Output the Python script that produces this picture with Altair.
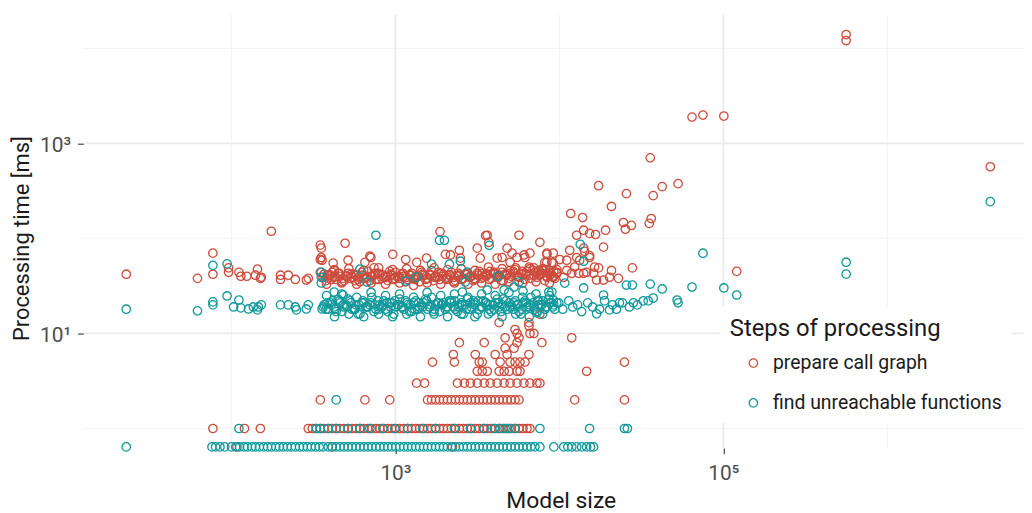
import altair as alt
import pandas as pd

RED_NAME = "prepare call graph"
TEAL_NAME = "find unreachable functions"
RED = "#cc4c3d"
TEAL = "#11999c"

# ---------------- data (model size, time in ms) ----------------
# points whose time rounds to whole milliseconds, grouped by value (x = model size)
red_ms0_x = [108, 411, 2225]
red_ms1_x = [77, 120, 150, 294, 311, 329, 348, 367, 389, 411, 435, 459, 486, 514, 543, 575, 607, 642,
             679, 718, 760, 803, 849, 898, 949, 1004, 1061, 1123, 1187, 1255, 1328, 1403, 1485, 1570,
             1660, 1756, 1856, 1962, 2075, 2194, 2322, 2454, 2595, 2744, 2902, 3069, 3243, 3431, 3628,
             3836, 4058, 4289, 4536, 4797, 5073, 5365, 5669, 5997, 6342, 6615]
red_ms2_x = [348, 651, 923, 1570, 1660, 1756, 1856, 1962, 2075, 2194, 2322, 2454, 2595, 2744, 2902,
             3069, 3243, 3431, 3628, 3836, 4058, 4289, 4536, 4797, 5073, 5365, 5669, 12395, 24930]
red_ms3_x = [1345, 1506, 2387, 2632, 2862, 3155, 3479, 3783, 4172, 4600, 5003, 5515, 6081, 6613, 7292, 7603]
red_ms4_x = [3155, 3384, 3628, 4289, 4600, 4932, 5515, 5749, 14660]
red_ms5_x = [1683, 2288, 3243, 3384, 4349, 5003, 5365, 5749, 6165, 24930]
red_ms6_x = [2256, 3069, 4058, 4797, 6520]

teal_ms0_x = [22.8, 76, 80, 85, 91, 100, 106, 112, 119, 125, 133, 140, 148, 157, 166, 175, 186, 196,
              207, 219, 232, 245, 260, 274, 290, 307, 325, 343, 362, 389, 411, 435, 459, 486, 514, 543,
              575, 607, 642, 679, 718, 760, 803, 849, 898, 949, 1004, 1061, 1123, 1187, 1255, 1328,
              1403, 1485, 1570, 1660, 1756, 1856, 1962, 2075, 2194, 2322, 2454, 2595, 2744, 2902,
              3069, 3243, 3431, 3628, 3836, 4058, 4289, 4536, 4797, 5073, 5365, 5669, 5997, 6342,
              6706, 7090, 7603, 9250, 10630, 11260, 11890, 12745, 13675, 14660, 15500, 16160]
teal_ms1_x = [111, 329, 348, 389, 435, 514, 607, 698, 837, 990, 1187, 1464, 1756, 2288, 2862, 3479,
              4002, 4349, 4665, 4933, 5365, 7603, 15280, 24930, 25990]
teal_ms2_x = [435]

# main bands (model sizes shared by both steps)
band_a_x = [367, 389, 411, 435, 459, 486, 514, 543, 575, 607, 642, 679, 718, 760, 803, 849, 898, 949,
            1004, 1061, 1123, 1187, 1255, 1328, 1403, 1485, 1570, 1660, 1756, 1856, 1962, 2075, 2194,
            2322, 2454, 2595, 2744, 2902, 3069, 3243, 3431, 3628, 3836, 4058, 4289, 4536, 4797, 5073,
            5365, 5669, 5997, 6342, 6706, 7090, 7498, 7930, 8384, 8865, 9375]
band_b_x = [377, 400, 423, 447, 472, 500, 528, 559, 591, 624, 660, 698, 739, 781, 826, 873, 923, 976,
            1032, 1091, 1154, 1221, 1291, 1365, 1443, 1527, 1614, 1707, 1805, 1908, 2018, 2134, 2257,
            2387, 2524, 2669, 2822, 2984, 3155, 3336, 3528, 3730, 3945, 4172, 4411, 4665, 4933, 5216,
            5515, 5832, 6167, 6521, 6896, 7292, 7711, 8154, 8622, 9117, 9643]
band_c_x = [380, 425, 470, 520, 580, 640, 710, 790, 870, 960, 1060, 1170, 1290, 1420, 1560, 1720, 1890,
            2080, 2290, 2520, 2770, 3050, 3350, 3690, 4060, 4470, 4920, 5410, 5950, 6550, 7200, 7900, 8700]
band_d_x = [362, 384, 405, 429, 453, 479, 507, 535, 567, 599, 633, 670, 708, 750, 792, 837, 886, 936,
            990, 1046, 1107, 1171, 1238, 1310, 1384, 1464, 1548, 1637, 1732, 1830, 1935, 2046, 2164,
            2290, 2420, 2559, 2706, 2862, 3027, 3198, 3384, 3578, 3783, 4002, 4230, 4473, 4730, 5003,
            5291, 5591, 5914, 6254, 6613, 6992, 7394, 7820, 8268, 8742, 9245]

red_band_a_y = [42, 38, 44, 37, 40, 36, 43, 39, 41, 35,
                38, 45, 40, 37, 42, 39, 36, 41, 44, 38,
                40, 37, 43, 39, 35, 41, 38, 46, 40, 37,
                42, 39, 44, 36, 41, 38, 43, 40, 37, 45,
                39, 42, 38, 44, 41, 36, 43, 40, 47, 39,
                42, 45, 38, 44, 41, 46, 40, 43, 38]
red_band_b_y = [36, 41, 39, 43, 35, 40, 38, 42, 37, 44,
                39, 36, 41, 43, 38, 40, 45, 37, 39, 42,
                35, 41, 38, 40, 44, 37, 42, 36, 39, 43,
                38, 41, 35, 40, 37, 42, 39, 36, 43, 38,
                41, 37, 44, 39, 36, 42, 38, 45, 40, 43,
                37, 41, 46, 39, 42, 36, 44, 40, 47]
red_band_c_y = [33, 47, 34, 48, 33, 46, 34, 49, 33, 47,
                34, 48, 32, 46, 34, 49, 33, 47, 34, 48,
                33, 46, 34, 50, 33, 48, 35, 49, 34, 50,
                35, 48, 34]
red_band_d_y = [39, 41, 37, 40, 43, 38, 40, 42, 36, 39,
                41, 38, 40, 43, 37, 41, 39, 42, 38, 40,
                43, 39, 41, 37, 40, 42, 38, 41, 39, 44,
                40, 37, 41, 39, 43, 38, 42, 40, 38, 41,
                43, 40, 45, 42, 39, 44, 41, 46, 43, 40,
                45, 42, 48, 41, 44, 43, 47, 41, 45]

teal_band_a_y = [20, 18, 22, 17, 21, 19, 23, 18, 20, 16,
                 21, 19, 24, 18, 20, 22, 17, 21, 19, 23,
                 18, 20, 17, 22, 19, 21, 18, 24, 20, 17,
                 21, 19, 22, 18, 20, 16, 23, 19, 21, 18,
                 22, 20, 17, 21, 19, 23, 18, 20, 22, 17,
                 21, 19, 24, 18, 20, 22, 19, 21, 18]
teal_band_b_y = [18, 21, 19, 23, 17, 20, 22, 18, 16, 21,
                 19, 20, 17, 22, 19, 18, 21, 16, 20, 19,
                 22, 17, 21, 18, 20, 23, 19, 17, 21, 20,
                 18, 22, 19, 17, 21, 20, 18, 22, 16, 19,
                 21, 18, 20, 23, 17, 19, 21, 18, 20, 16,
                 22, 19, 21, 17, 20, 18, 23, 19, 21]
teal_band_c_y = [25, 15, 26, 16, 24, 15, 27, 16, 25, 15,
                 26, 16, 24, 15, 27, 16, 25, 15, 26, 16,
                 24, 15, 26, 16, 25, 15, 27, 16, 24, 15,
                 26, 16, 25]
teal_band_d_y = [19, 21, 20, 18, 22, 20, 19, 21, 18, 20,
                 22, 19, 21, 20, 18, 20, 21, 19, 22, 20,
                 19, 21, 20, 18, 21, 19, 22, 20, 18, 21,
                 20, 19, 21, 22, 19, 20, 18, 21, 20, 22,
                 19, 21, 20, 18, 21, 20, 22, 19, 21, 20,
                 18, 21, 20, 19, 22, 20, 19, 21, 20]

teal_ext_x = [9913, 10480, 11400, 12060, 12920, 13675, 14870, 15950, 17570, 18850, 21070, 22285,
              24240, 26720, 29880, 32480]
teal_ext_y = [21, 18, 22, 19, 20, 17, 21, 19, 18, 22, 20, 18, 21, 19, 20, 22]

# remaining individual points
red_pts_x = [4665, 5289, 2454, 3479, 5515, 7819, 4665, 5669, 11890, 5515,
             6615, 6990, 5365, 6520, 4289, 6520, 7603,
             22.8, 62, 77, 77, 96, 96, 111, 114, 124, 140,
             144, 150, 152, 175, 199, 199, 222, 245, 286, 294,
             348, 353, 353, 357, 348, 348,
             493, 514, 651, 708, 963, 1155, 1347, 1547, 2018, 740,
             423, 1870, 3550, 5669, 3711, 3155, 2454, 4797, 7603, 4172,
             5515, 6165, 5003, 8384, 9180, 8150, 8990, 6990, 2164, 3290,
             2489, 4473, 5144, 6081, 6615, 3628, 417, 698,
             17330, 25625, 37340, 42360, 52960, 35820, 20780, 11720, 13860, 24580,
             25270, 27480, 35320, 36325, 19120, 18580, 12745, 14060, 15280, 16620,
             14260, 11560, 8384, 10050, 11085, 12745, 15280, 16390, 8680, 9643,
             11085, 11890, 13105, 14060, 14660, 10630, 16855, 20780, 20210, 22920,
             27870, 8384, 9180, 64400, 75100, 100700, 560900, 560900, 4247000, 120700,
             17330, 13300, 15280, 8384, 9180, 12395, 14060, 7498, 9643, 18580, 16160]
red_pts_y = [7, 7, 8, 8, 8, 8, 9, 9, 9, 10,
             10, 10, 11, 12, 13, 13, 16,
             42, 38, 70, 42, 49, 44, 44, 40, 40, 41,
             47.5, 38, 39, 119, 41, 37, 41, 37, 36.5, 38,
             85, 79, 63, 59, 60, 44,
             89, 59, 56, 63, 68, 60, 56, 62, 68, 49,
             46, 118, 107, 108, 91, 79, 75, 79, 91, 62,
             63, 63, 56, 68, 70, 56, 56, 49, 67, 62,
             62, 63, 70, 67, 70, 108, 55, 65,
             359, 296, 282, 351, 377, 705, 217, 183, 166, 147,
             125, 137, 144, 162, 122, 81, 108, 122, 113, 110,
             73, 75, 70, 60, 59, 63, 63, 50, 46, 44,
             46, 43, 43, 43, 44, 39, 36.5, 46, 39, 38,
             49, 39, 39, 1893, 1987, 1940, 13980, 12090, 568, 45,
             49, 59, 66, 56, 55, 50, 79, 46, 43, 36.5, 43]

teal_pts_x = [22.8, 62, 77, 77, 77, 94, 94, 103, 111, 114,
              127, 136, 144, 146, 152, 199, 222, 245, 249, 286,
              294, 357, 353, 353, 353,
              760, 607, 670, 1154, 1347, 1660, 1856, 1990, 423, 479,
              3730, 2134, 2489, 2744, 4233, 5669, 5289, 2669, 2559, 3628,
              4600, 5997, 7498, 8990, 7292,
              13400, 14060, 10780, 14060, 25625, 27870, 35820, 42360, 64400, 100700,
              120700, 52220, 75100, 560900, 560900, 4247000, 18580, 16855, 20210, 23230,
              28270, 34840, 37380, 52960, 8622, 9180]
teal_pts_y = [18, 17.3, 52, 21.5, 20, 54, 24.8, 19, 22.5, 18.6,
              18.1, 19, 17.7, 19, 20, 20, 20, 19, 17.7, 18.1,
              20, 18.1, 44, 39, 34,
              108, 47.5, 34.8, 35.6, 39.2, 53.6, 95.5, 95.5, 27.3, 25.4,
              84.7, 53.6, 57.6, 44.2, 40.2, 34.8, 30.8, 34.8, 27.3, 28.7,
              28.7, 28, 22.5, 27.3, 16.5,
              86.8, 57.6, 33.9, 30.1, 32.3, 32.3, 33.1, 29.4, 30.8, 30.1,
              25.4, 22.5, 69.9, 56.2, 42.1, 244, 25.4, 16.1, 17.7, 21,
              21, 22, 23.6, 21, 27.3, 22.5]

# grid lines
x_major = [1000, 100000]
x_minor = [100, 10000, 1000000]
y_major = [10, 1000]
y_minor = [1, 100, 10000]

# ---------------- table ----------------
rows = []


def add_row_list(xs, ms, step):
    for x in xs:
        rows.append((x, ms, step))


def add_pairs(xs, ys, step):
    for x, y in zip(xs, ys):
        rows.append((x, y, step))


add_row_list(red_ms0_x, 0, RED_NAME)
add_row_list(red_ms1_x, 1, RED_NAME)
add_row_list(red_ms2_x, 2, RED_NAME)
add_row_list(red_ms3_x, 3, RED_NAME)
add_row_list(red_ms4_x, 4, RED_NAME)
add_row_list(red_ms5_x, 5, RED_NAME)
add_row_list(red_ms6_x, 6, RED_NAME)
add_pairs(band_a_x, red_band_a_y, RED_NAME)
add_pairs(band_b_x, red_band_b_y, RED_NAME)
add_pairs(band_c_x, red_band_c_y, RED_NAME)
add_pairs(band_d_x, red_band_d_y, RED_NAME)
add_pairs(red_pts_x, red_pts_y, RED_NAME)

add_row_list(teal_ms0_x, 0, TEAL_NAME)
add_row_list(teal_ms1_x, 1, TEAL_NAME)
add_row_list(teal_ms2_x, 2, TEAL_NAME)
add_pairs(band_a_x, teal_band_a_y, TEAL_NAME)
add_pairs(band_b_x, teal_band_b_y, TEAL_NAME)
add_pairs(band_c_x, teal_band_c_y, TEAL_NAME)
add_pairs(band_d_x, teal_band_d_y, TEAL_NAME)
add_pairs(teal_ext_x, teal_ext_y, TEAL_NAME)
add_pairs(teal_pts_x, teal_pts_y, TEAL_NAME)

df = pd.DataFrame(rows, columns=["size", "ms", "step"])
df["idx"] = range(len(df))

FONT = "Roboto"
W, H = 946, 436
xscale = alt.Scale(type="log", domain=[12.52, 6.82e6], nice=False)
yscale = alt.Scale(type="log", domain=[0.625, 22750], nice=False)

x_axis = alt.Axis(
    values=x_major, labelExpr="datum.value == 1000 ? '10³' : '10⁵'",
    grid=False, domain=False, ticks=True, tickColor="#333333", tickSize=6, tickWidth=1.1,
    labelFont=FONT, labelFontSize=21, labelColor="#4d4d4d", labelPadding=9,
    title="Model size", titleFont=FONT, titleFontSize=23, titleFontWeight="normal",
    titleColor="#1a1a1a", titleX=480, titleY=60, titleBaseline="alphabetic", titleAlign="center")
y_axis = alt.Axis(
    values=y_major, labelExpr="datum.value == 10 ? '10¹' : '10³'",
    grid=False, domain=False, ticks=True, tickColor="#333333", tickSize=6, tickWidth=1.1,
    labelFont=FONT, labelFontSize=21, labelColor="#4d4d4d", labelPadding=7, labelOffset=2,
    title="Processing time [ms]", titleFont=FONT, titleFontSize=22, titleFontWeight="normal",
    titleColor="#1a1a1a", titleX=-55, titleY=225, titleAngle=270, titleBaseline="alphabetic",
    titleAlign="center")


def hgrid(vals, color, width):
    return alt.Chart(pd.DataFrame({"v": vals})).mark_rule(color=color, strokeWidth=width).encode(
        y=alt.Y("v:Q", scale=yscale, axis=y_axis))


def vgrid(vals, color, width):
    return alt.Chart(pd.DataFrame({"v": vals})).mark_rule(color=color, strokeWidth=width).encode(
        x=alt.X("v:Q", scale=xscale, axis=x_axis))


points = alt.Chart(df).transform_calculate(
    yv="datum.ms == 0 ? 0.64 : datum.ms"
).mark_point(shape="circle", filled=False, size=72, strokeWidth=1.3, opacity=1, clip=False).encode(
    x=alt.X("size:Q", scale=xscale, axis=x_axis),
    y=alt.Y("yv:Q", scale=yscale, axis=y_axis),
    color=alt.Color("step:N", scale=alt.Scale(domain=[RED_NAME, TEAL_NAME], range=[RED, TEAL]),
                    legend=alt.Legend(
                        title="Steps of processing", orient="none", legendX=640, legendY=294,
                        fillColor="white", padding=10, titleFont=FONT, titleFontSize=24,
                        titleFontWeight="normal", titleColor="#1a1a1a", titleLimit=400,
                        titlePadding=13, labelFont=FONT, labelFontSize=19.5, labelColor="#1a1a1a",
                        labelLimit=400, symbolType="circle", symbolSize=72, symbolStrokeWidth=1.3,
                        symbolOffset=14, labelOffset=10, rowPadding=19)),
    order=alt.Order("idx:Q"),
)

chart = alt.layer(
    hgrid(y_minor, "#f3f3f3", 1.0),
    vgrid(x_minor, "#f3f3f3", 1.0),
    hgrid(y_major, "#ebebeb", 1.8),
    vgrid(x_major, "#ebebeb", 1.8),
    points,
).properties(
    width=W, height=H,
    autosize=alt.AutoSizeParams(type="none"),
    padding={"left": 76, "top": 5, "right": 0, "bottom": 64},
).configure_view(strokeWidth=0)

chart.save("out.html", embed_options={"renderer": "svg", "actions": False})
